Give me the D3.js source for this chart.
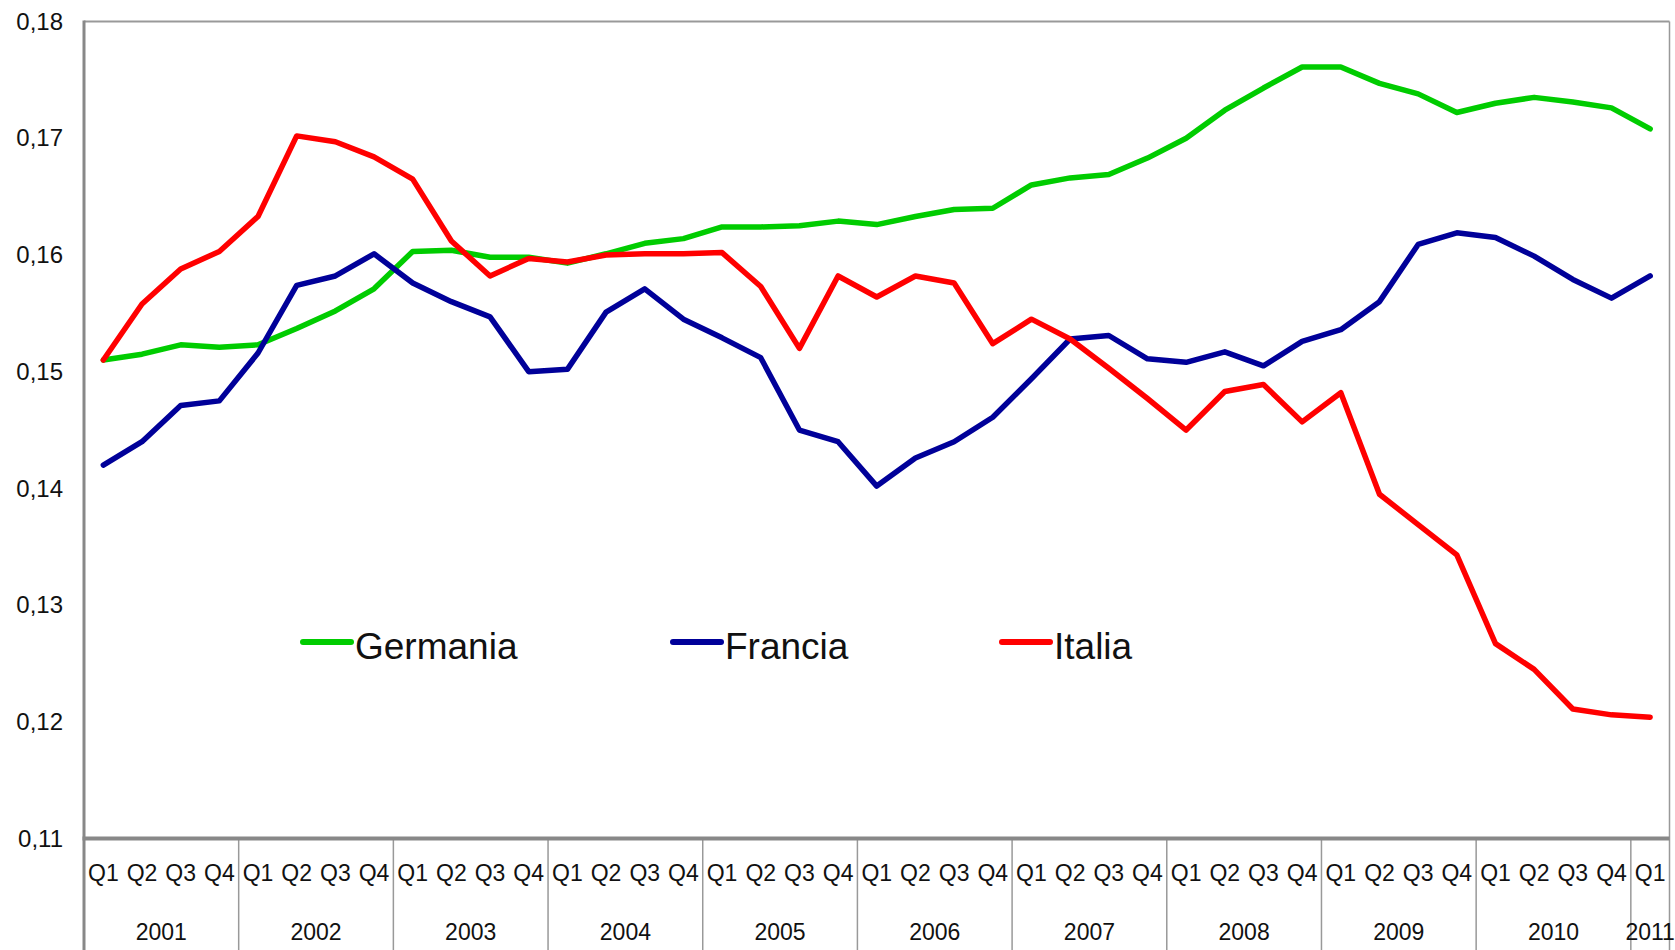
<!DOCTYPE html>
<html>
<head>
<meta charset="utf-8">
<script src="https://cdn.jsdelivr.net/npm/d3@7"></script>
<style>
  html, body { margin: 0; padding: 0; background: #fff; }
  svg { display: block; }
  text { font-family: "Liberation Sans", Arial, sans-serif; fill: #111; }
</style>
</head>
<body>
<svg id="chart" width="1675" height="950"></svg>
<script>
// ---- data ----
const years = ["2001","2002","2003","2004","2005","2006","2007","2008","2009","2010","2011"];
const quarterNames = ["Q1","Q2","Q3","Q4"];
const periods = [];
years.forEach(yr => quarterNames.forEach(q => { if (!(yr === "2011" && q !== "Q1")) periods.push(yr + "-" + q); }));

const germania = [0.1510,0.1515,0.1523,0.1521,0.1523,0.1537,0.1552,0.1571,
                  0.1603,0.1604,0.1598,0.1598,0.1593,0.1601,0.1610,0.1614,
                  0.1624,0.1624,0.1625,0.1629,0.1626,0.1633,0.1639,0.1640,
                  0.1660,0.1666,0.1669,0.1683,0.1700,0.1724,0.1743,0.1761,
                  0.1761,0.1747,0.1738,0.1722,0.1730,0.1735,0.1731,0.1726,
                  0.1708];
const francia  = [0.1420,0.1440,0.1471,0.1475,0.1516,0.1574,0.1582,0.1601,
                  0.1576,0.1560,0.1547,0.1500,0.1502,0.1551,0.1571,0.1545,
                  0.1529,0.1512,0.1450,0.1440,0.1402,0.1426,0.1440,0.1461,
                  0.1494,0.1528,0.1531,0.1511,0.1508,0.1517,0.1505,0.1526,
                  0.1536,0.1560,0.1609,0.1619,0.1615,0.1599,0.1579,0.1563,
                  0.1582];
const italia   = [0.1510,0.1558,0.1588,0.1603,0.1633,0.1702,0.1697,0.1684,
                  0.1665,0.1612,0.1582,0.1597,0.1594,0.1600,0.1601,0.1601,
                  0.1602,0.1573,0.1520,0.1582,0.1564,0.1582,0.1576,0.1524,
                  0.1545,0.1528,0.1503,0.1477,0.1450,0.1483,0.1489,0.1457,
                  0.1482,0.1395,0.1369,0.1343,0.1267,0.1245,0.1211,0.1206,
                  0.1204];
const yTicks = [0.11,0.12,0.13,0.14,0.15,0.16,0.17,0.18];
const seriesNames = ["Germania","Francia","Italia"];
const seriesValues = [germania, francia, italia];
const seriesColors = ["#00cc00","#000099","#ff0000"];

// ---- layout ----
const svg = d3.select("#chart");
const plotLeft = 84, plotRight = 1669.5, plotTop = 21.5, plotBottom = 838.6;

const x = d3.scaleBand().domain(periods).range([plotLeft, plotRight]).paddingInner(0).paddingOuter(0);
const y = d3.scaleLinear().domain([0.11, 0.18]).range([plotBottom, plotTop]);
const itFmt = d3.formatLocale({decimal: ",", thousands: ".", grouping: [3], currency: ["€",""]}).format(".2f");

// frame: top and right lines
svg.append("line").attr("x1", plotLeft).attr("x2", plotRight).attr("y1", plotTop).attr("y2", plotTop)
  .attr("stroke", "#999").attr("stroke-width", 2);
svg.append("line").attr("x1", plotRight).attr("x2", plotRight).attr("y1", plotTop).attr("y2", 950)
  .attr("stroke", "#999").attr("stroke-width", 1.5);

// year separators below axis
const yearStarts = years.map(yr => periods.indexOf(yr + "-Q1"));
svg.append("g").selectAll("line").data(yearStarts).join("line")
  .attr("x1", d => x(periods[d])).attr("x2", d => x(periods[d]))
  .attr("y1", plotBottom).attr("y2", 950)
  .attr("stroke", "#999").attr("stroke-width", 1.5);

// y axis
const yAxis = d3.axisLeft(y).tickValues(yTicks).tickFormat(itFmt).tickSize(0).tickPadding(21);
const gy = svg.append("g").attr("transform", `translate(${plotLeft},0)`).call(yAxis);
gy.select(".domain").remove();
gy.selectAll("text").attr("font-size", 24).attr("font-family", "Liberation Sans, Arial, sans-serif").attr("fill", "#111");
svg.append("line").attr("x1", plotLeft).attr("x2", plotLeft).attr("y1", plotTop - 1).attr("y2", 950)
  .attr("stroke", "#888").attr("stroke-width", 3);

// x axis: quarter labels
const xAxis = d3.axisBottom(x).tickFormat(d => d.split("-")[1]).tickSize(0).tickPadding(26);
const gx = svg.append("g").attr("transform", `translate(0,${plotBottom})`).call(xAxis);
gx.select(".domain").remove();
gx.selectAll("text").attr("font-size", 23).attr("font-family", "Liberation Sans, Arial, sans-serif").attr("fill", "#111");

// year labels
svg.append("g").selectAll("text").data(years).join("text")
  .attr("x", yr => {
    const ps = periods.filter(p => p.startsWith(yr));
    return (x(ps[0]) + x(ps[ps.length - 1]) + x.bandwidth()) / 2;
  })
  .attr("y", 940)
  .attr("text-anchor", "middle")
  .attr("font-size", 23)
  .text(d => d);

// bottom axis line
svg.append("line").attr("x1", plotLeft - 1.5).attr("x2", plotRight).attr("y1", plotBottom).attr("y2", plotBottom)
  .attr("stroke", "#888").attr("stroke-width", 4);

// series lines
const line = d3.line()
  .x((d, i) => x(periods[i]) + x.bandwidth() / 2)
  .y(d => y(d));
svg.append("g").selectAll("path").data(seriesValues).join("path")
  .attr("d", d => line(d))
  .attr("fill", "none")
  .attr("stroke", (d, i) => seriesColors[i])
  .attr("stroke-width", 5.5)
  .attr("stroke-linejoin", "round")
  .attr("stroke-linecap", "round");

// legend
const legendX = [303, 673, 1002];
const lg = svg.append("g").selectAll("g").data(seriesNames).join("g")
  .attr("transform", (d, i) => `translate(${legendX[i]},642)`);
lg.append("line").attr("x1", 0).attr("x2", 48).attr("y1", 0).attr("y2", 0)
  .attr("stroke", (d, i) => seriesColors[i]).attr("stroke-width", 6).attr("stroke-linecap", "round");
lg.append("text").attr("x", 52).attr("y", 17).attr("font-size", 37).text(d => d);
</script>
</body>
</html>
